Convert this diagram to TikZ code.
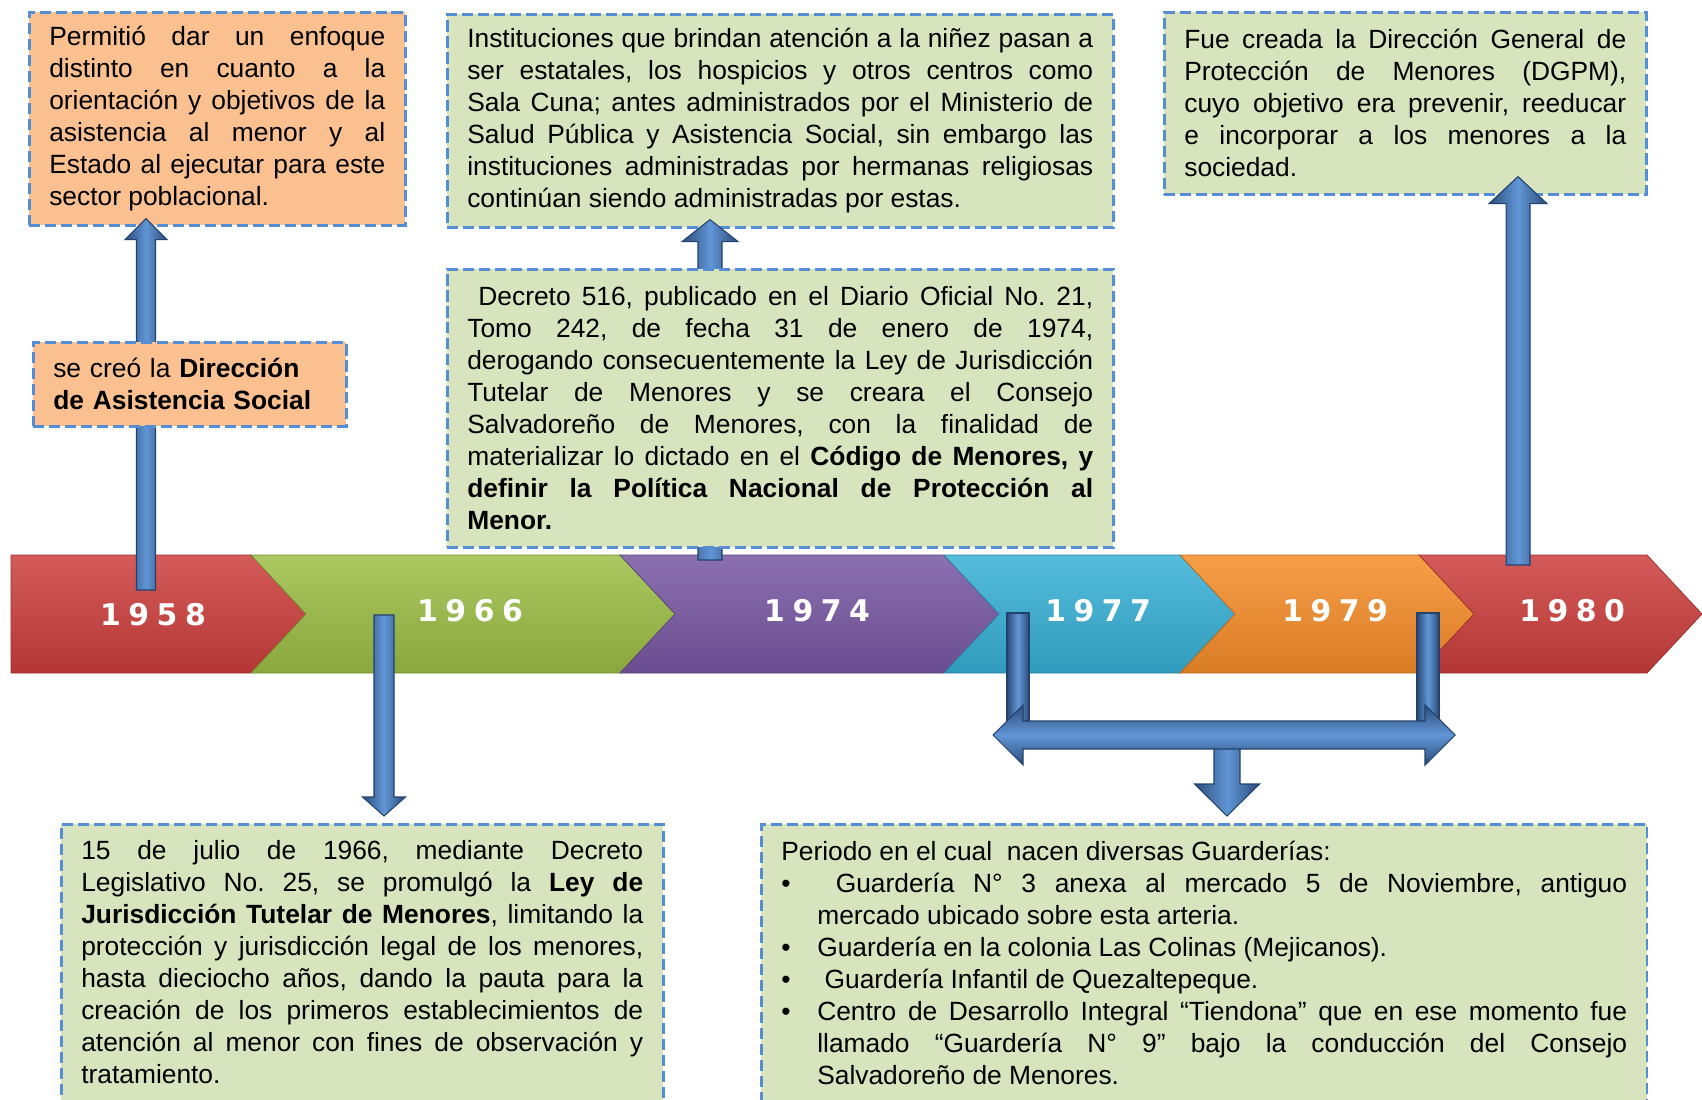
\documentclass[tikz,border=0pt]{standalone}
\usepackage{fontspec}
\setmainfont{Liberation Sans}
\newfontfamily\yearfont[LetterSpace=25]{DejaVu Sans}
\usetikzlibrary{calc}
\setlength{\parindent}{0pt}
\hyphenpenalty=10000
\tolerance=9999
\frenchspacing

\definecolor{peach}{HTML}{FAC090}
\definecolor{sage}{HTML}{D7E4BD}
\definecolor{dashblue}{HTML}{558ED5}
\definecolor{arrdark}{HTML}{2B4C7A}
\definecolor{arrlight}{HTML}{6196D6}
\definecolor{arrline}{HTML}{23426B}
\definecolor{chred}{HTML}{CC3E3C}
\definecolor{chgreen}{HTML}{9CBE45}
\definecolor{chpurple}{HTML}{7757A3}
\definecolor{chcyan}{HTML}{37B0D6}
\definecolor{chorange}{HTML}{F68D29}

\tikzset{
  infobox/.style={draw=dashblue, line width=1.5pt, dash pattern=on 6.3pt off 2.8pt,
    inner xsep=0.4cm, inner ysep=0.2cm, align=justify,
    font=\fontsize{15}{18.2}\selectfont},
  peachbox/.style={infobox, fill=peach},
  sagebox/.style={infobox, fill=sage},
  yearlabel/.style={text=white, font=\yearfont\bfseries\fontsize{17}{17}\selectfont},
  blkv/.style={left color=arrdark, right color=arrdark, middle color=arrlight, draw=arrline, line width=0.6pt},
  blkh/.style={top color=arrdark, bottom color=arrdark, middle color=arrlight, draw=arrline, line width=0.6pt}
}

\newcommand{\blkarrow}[6][blkv]{%
  \coordinate (hb) at ($(#3)!#6!(#2)$);
  \path[#1] ($(#2)!#4!90:(#3)$) -- ($(hb)!#4!90:(#3)$) -- ($(hb)!#5!90:(#3)$) -- (#3)
    -- ($(hb)!#5!-90:(#3)$) -- ($(hb)!#4!-90:(#3)$) -- ($(#2)!#4!-90:(#3)$) -- cycle;
}

\begin{document}
\begin{tikzpicture}[x=0.02cm, y=-0.02cm]
\useasboundingbox (0,0) rectangle (1702,1099);
\clip (0,0) rectangle (1702,1099);

\foreach \b/\t/\n/\c in {11/306/0/chred, 251/675/55/chgreen, 620/999/55/chpurple, 944/1235/55/chcyan, 1180/1474/55/chorange, 1419/1702/55/chred}
  \path[top color=\c!85!white, bottom color=\c!88!black, draw=\c!75!black, line width=0.4pt]
    (\b,555) -- (\t-55,555) -- (\t,614) -- (\t-55,673) -- (\b,673) -- (\b+\n,614) -- cycle;

\foreach \x/\y/\yr in {153/615/1958, 470/611/1966, 817/611/1974, 1098/611/1977, 1335/611/1979, 1572/611/1980}
  \node[yearlabel] (y\yr) at (\x,\y) {\yr};

\node[peachbox, anchor=north west, text width=6.72cm, minimum height=4.26cm] (n58res) at (28,11)
  {Permitió dar un enfoque\linebreak distinto en cuanto a la\linebreak orientación y objetivos de la\linebreak asistencia al menor y al\linebreak Estado al ejecutar para este\linebreak sector poblacional.};
\node[sagebox, anchor=north west, text width=12.52cm, minimum height=4.26cm] (n74res) at (446,13)
  {Instituciones que brindan atención a la niñez pasan a\linebreak ser estatales, los hospicios y otros centros como\linebreak Sala Cuna; antes administrados por el Ministerio de\linebreak Salud Pública y Asistencia Social, sin embargo las\linebreak instituciones administradas por hermanas religiosas\linebreak continúan siendo administradas por estas.};
\node[sagebox, anchor=north west, text width=8.84cm, minimum height=3.64cm] (n80) at (1163,11)
  {Fue creada la Dirección General de\linebreak Protección de Menores (DGPM),\linebreak cuyo objetivo era prevenir, reeducar\linebreak e incorporar a los menores a la\linebreak sociedad.};
\node[sagebox, anchor=north west, text width=11.24cm, inner ysep=0.33cm, text depth=5.5cm] (n66) at (60,823)
  {15 de julio de 1966, mediante Decreto\linebreak Legislativo No. 25, se promulgó la \textbf{Ley de\linebreak Jurisdicción Tutelar de Menores}, limitando la\linebreak protección y jurisdicción legal de los menores,\linebreak hasta dieciocho años, dando la pauta para la\linebreak creación de los primeros establecimientos de\linebreak atención al menor con fines de observación y\linebreak tratamiento.};
\node[sagebox, anchor=north west, text width=16.92cm, inner ysep=0.33cm, text depth=5.5cm] (n77) at (760,823)
  {Periodo en el cual\ \ nacen diversas Guarderías:\par
   \hangindent=0.72cm\hangafter=1\makebox[0.72cm][l]{\textbullet}\hspace{0.37cm}Guardería N° 3 anexa al mercado 5 de Noviembre, antiguo\linebreak mercado ubicado sobre esta arteria.\par
   \hangindent=0.72cm\hangafter=1\makebox[0.72cm][l]{\textbullet}Guardería en la colonia Las Colinas (Mejicanos).\par
   \hangindent=0.72cm\hangafter=1\makebox[0.72cm][l]{\textbullet}\ Guardería Infantil de Quezaltepeque.\par
   \hangindent=0.72cm\hangafter=1\makebox[0.72cm][l]{\textbullet}Centro de Desarrollo Integral “Tiendona” que en ese momento fue\linebreak llamado “Guardería N° 9” bajo la conducción del Consejo\linebreak Salvadoreño de Menores.\par};

\coordinate (t58) at (146,590);
\coordinate (a58) at ($(n58res.south -| t58)+(0,-8)$);
\blkarrow{t58}{a58}{0.19cm}{0.42cm}{0.42cm}
\coordinate (t66) at (384,615);
\coordinate (a66) at ($(n66.north -| t66)+(0,-7)$);
\blkarrow{t66}{a66}{0.2cm}{0.43cm}{0.38cm}
\coordinate (t74) at (710,560);
\coordinate (a74) at ($(n74res.south -| t74)+(0,-9)$);
\blkarrow{t74}{a74}{0.24cm}{0.56cm}{0.44cm}
\coordinate (t80) at (1518,565);
\coordinate (a80) at ($(n80.south -| t80)+(0,-19)$);
\blkarrow{t80}{a80}{0.24cm}{0.58cm}{0.54cm}

\coordinate (t77) at (1018,613);
\coordinate (t79) at (1428,613);
\path[blkv] ($(t77)+(-11,0)$) rectangle ($(t77)+(11,122)$);
\path[blkv] ($(t79)+(-11,0)$) rectangle ($(t79)+(11,122)$);
\coordinate (brC) at (1227,735);
\coordinate (a77) at ($(n77.north -| brC)+(0,-7)$);
\blkarrow{brC}{a77}{0.26cm}{0.65cm}{0.64cm}
\coordinate (brL) at (993,735);
\coordinate (brR) at (1455,735);
\path[blkh] (brL) -- ++(30,-30) -- ++(0,16) -- ($(brR)+(-30,-14)$) -- ++(0,-16) -- (brR)
  -- ++(-30,30) -- ++(0,-16) -- ($(brL)+(30,14)$) -- ++(0,16) -- cycle;

\node[peachbox, anchor=north west, text width=5.46cm, minimum height=1.68cm, align=left] (n58) at (32,341)
  {se creó la \textbf{Dirección}\\\textbf{de Asistencia Social}};
\node[sagebox, anchor=north west, text width=12.52cm, minimum height=5.56cm] (n74) at (446,268)
  {\ Decreto 516, publicado en el Diario Oficial No. 21,\linebreak Tomo 242, de fecha 31 de enero de 1974,\linebreak derogando consecuentemente la Ley de Jurisdicción\linebreak Tutelar de Menores y se creara el Consejo\linebreak Salvadoreño de Menores, con la finalidad de\linebreak materializar lo dictado en el \textbf{Código de Menores, y\linebreak definir la Política Nacional de Protección al\linebreak Menor.}};
\end{tikzpicture}
\end{document}
